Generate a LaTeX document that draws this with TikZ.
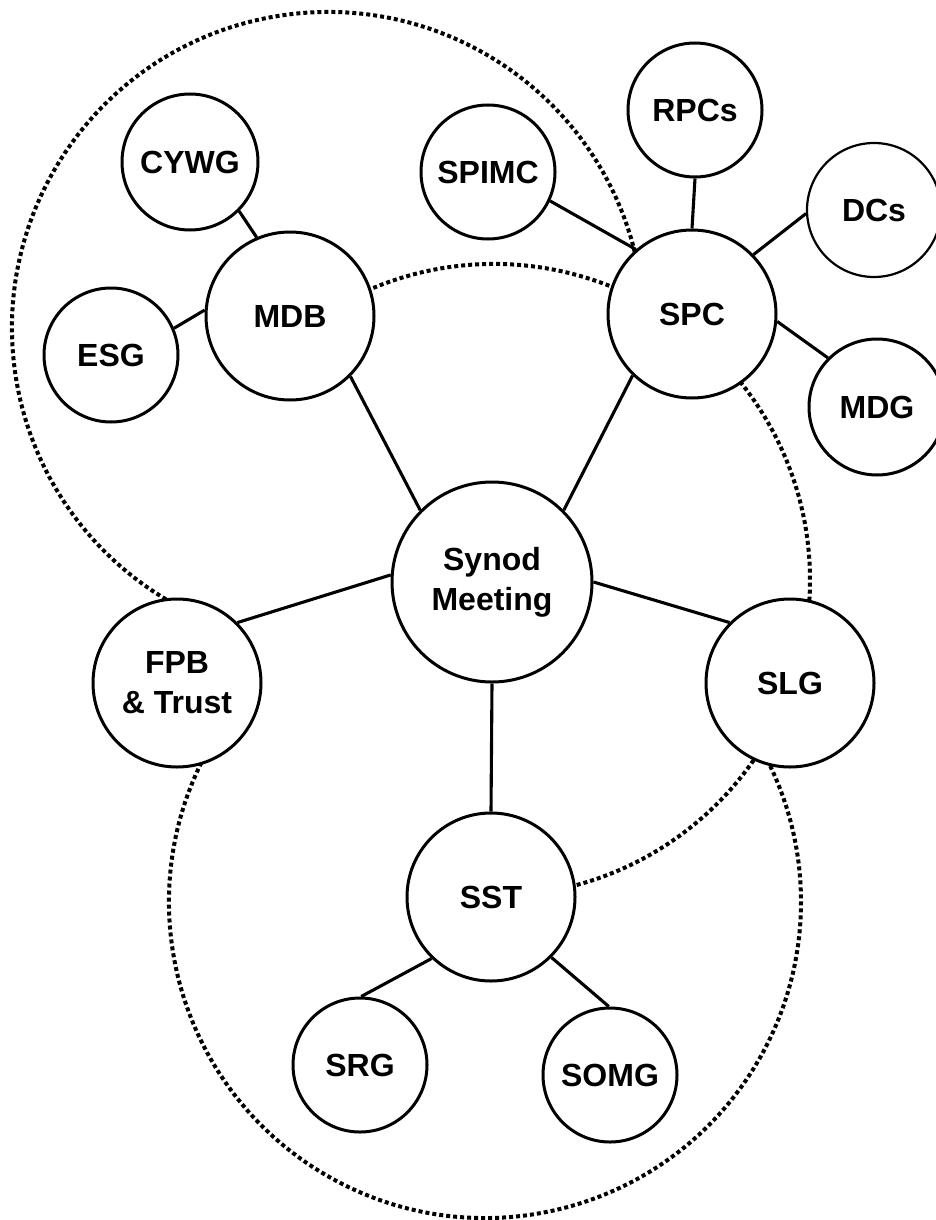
\documentclass[tikz,border=0pt]{standalone}
\usepackage{fontspec}
\setmainfont{Liberation Sans}
\begin{document}
\begin{tikzpicture}[x=1pt,y=1pt,
  org/.style={circle, draw=black, fill=white, line width=3pt, inner sep=0pt,
    minimum size=#1, font=\bfseries\fontsize{32}{40}\selectfont, align=center},
  link/.style={draw=black, line width=3.1pt},
  grp/.style={draw=black, line width=4pt, dash pattern=on 4pt off 3pt}]
\useasboundingbox (0,0) rectangle (936,-1220);
% group boundaries (dotted arcs)
\coordinate (g1) at (328,-328);
\coordinate (g2) at (494,-580);
\coordinate (g3) at (485,-902);
\draw[grp] (g1) ++(10:316pt) arc[start angle=10, end angle=245, radius=316pt];
\draw[grp] (g2) ++(115:316pt) arc[start angle=115, end angle=-80, radius=316pt];
\draw[grp] (g3) ++(150:316pt) arc[start angle=150, end angle=390, radius=316pt];
% nodes
\node[org=136pt] (cywg) at (190,-162) {CYWG};
\node[org=168pt] (mdb) at (290,-316) {MDB};
\node[org=134pt] (esg) at (111,-355) {ESG};
\node[org=134pt] (spimc) at (488,-172) {SPIMC};
\node[org=134pt] (rpcs) at (695,-110) {RPCs};
\node[org=168pt] (spc) at (692,-314) {SPC};
\node[org=134pt, line width=2.2pt] (dcs) at (874,-210) {DCs};
\node[org=136pt] (mdg) at (877,-407) {MDG};
\node[org=200pt] (synod) at (492,-582) {Synod\\Meeting};
\node[org=168pt] (fpb) at (177,-683) {FPB\\\& Trust};
\node[org=168pt] (slg) at (790,-683) {SLG};
\node[org=168pt] (sst) at (491,-897) {SST};
\node[org=134pt] (srg) at (360,-1065) {SRG};
\node[org=134pt] (somg) at (610,-1075) {SOMG};
% connectors
\draw[link] (cywg.-45) -- (mdb.113);
\draw[link] (esg.23) -- (mdb.176);
\draw[link] (mdb.-45) -- (synod.135);
\draw[link] (spimc.-25) -- (spc.131);
\draw[link] (rpcs.-90) -- (spc.90);
\draw[link] (dcs.183) -- (spc.44);
\draw[link] (spc.-5) -- (mdg.135);
\draw[link] (spc.-134) -- (synod.45);
\draw[link] (synod.176) -- (fpb.45);
\draw[link] (synod.0) -- (slg.135);
\draw[link] (synod.-90) -- (sst.90);
\draw[link] (sst.-134) -- (srg.89);
\draw[link] (sst.-45) -- (somg.91);
\end{tikzpicture}
\end{document}
